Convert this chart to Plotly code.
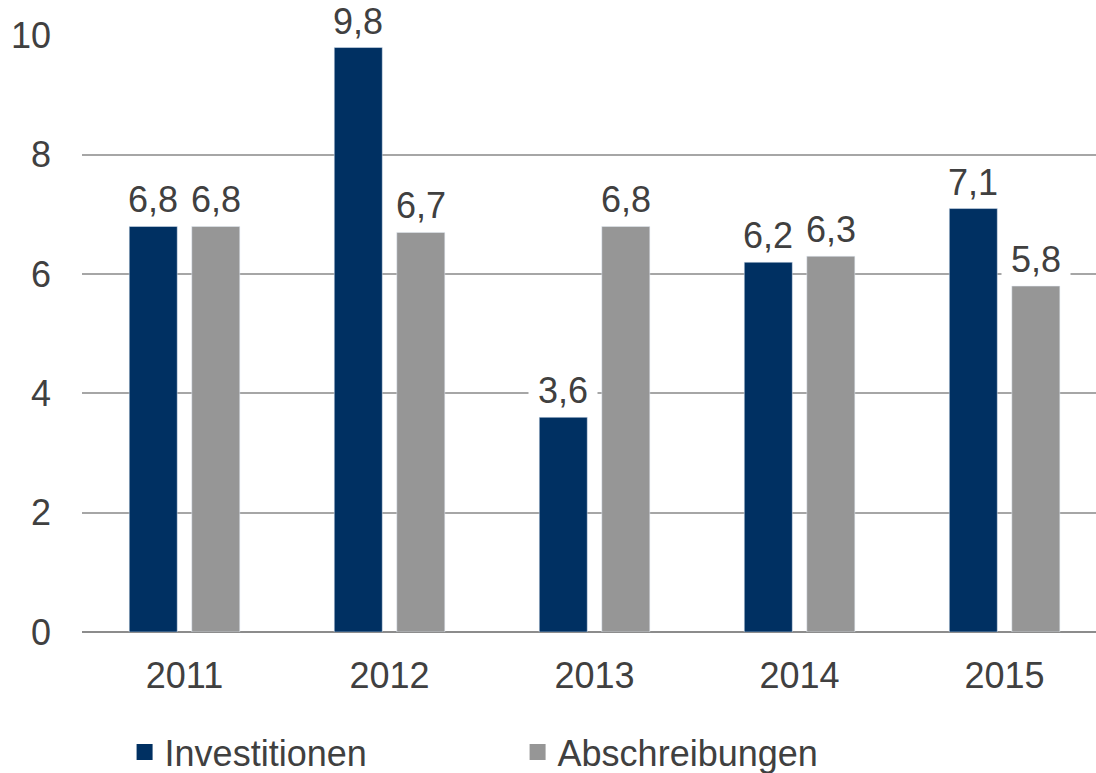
import plotly.graph_objects as go

years = ["2011", "2012", "2013", "2014", "2015"]
investitionen = [6.8, 9.8, 3.6, 6.2, 7.1]
abschreibungen = [6.8, 6.7, 6.8, 6.3, 5.8]
labels_inv = ["6,8", "9,8", "3,6", "6,2", "7,1"]
labels_abs = ["6,8", "6,7", "6,8", "6,3", "5,8"]
y_ticks = [0, 2, 4, 6, 8, 10]

NAVY = "#003062"
GRAY = "#969696"
TXT = "#404040"
FONT = "Liberation Sans, Arial, sans-serif"

fig = go.Figure()
fig.add_trace(go.Bar(x=years, y=investitionen, name="Investitionen",
                     marker=dict(color=NAVY), showlegend=False))
fig.add_trace(go.Bar(x=years, y=abschreibungen, name="Abschreibungen",
                     marker=dict(color=GRAY), showlegend=False))
# legend entries
fig.add_trace(go.Scatter(x=[years[0]], y=[None], mode="markers", name="Investitionen",
                         marker=dict(symbol="square", size=16, color=NAVY)))
fig.add_trace(go.Scatter(x=[years[0]], y=[None], mode="markers", name="Abschreibungen",
                         marker=dict(symbol="square", size=16, color=GRAY)))

for vals, labs, shift in [(investitionen, labels_inv, -31.25), (abschreibungen, labels_abs, 31.25)]:
    for i, (v, lab) in enumerate(zip(vals, labs)):
        fig.add_annotation(
            x=i, y=v, xref="x", yref="y", text=lab, showarrow=False,
            xshift=shift, yshift=5, yanchor="bottom", xanchor="center",
            bgcolor="white", borderpad=2, width=64, height=38,
            font=dict(family=FONT, size=36, color=TXT))

fig.update_layout(
    width=1096, height=773,
    margin=dict(l=82, r=0, t=35, b=141),
    paper_bgcolor="white", plot_bgcolor="white",
    barmode="group", bargap=0.39, bargroupgap=0.232,
    font=dict(family=FONT, size=36, color=TXT),
    legend=dict(orientation="h", x=0.042, xanchor="left",
                yref="container", y=0.027, yanchor="middle",
                font=dict(family=FONT, size=36, color=TXT),
                entrywidth=348, entrywidthmode="pixels", itemclick=False),
    xaxis=dict(type="category", range=[-0.5, 4.446], showgrid=False,
               showline=False, zeroline=False, ticks="", ticklabelstandoff=19,
               tickfont=dict(family=FONT, size=36, color=TXT)),
    yaxis=dict(range=[0, 10.01], tickvals=y_ticks, showgrid=True,
               gridcolor="#A6A6A6", gridwidth=1.5, zeroline=True,
               zerolinecolor="#8C8C8C", zerolinewidth=2, showline=False,
               ticks="", ticklabelstandoff=30,
               tickfont=dict(family=FONT, size=36, color=TXT)),
)

fig.write_html("out.html", config={"displayModeBar": False},
               post_script="document.body.style.margin='0';")
